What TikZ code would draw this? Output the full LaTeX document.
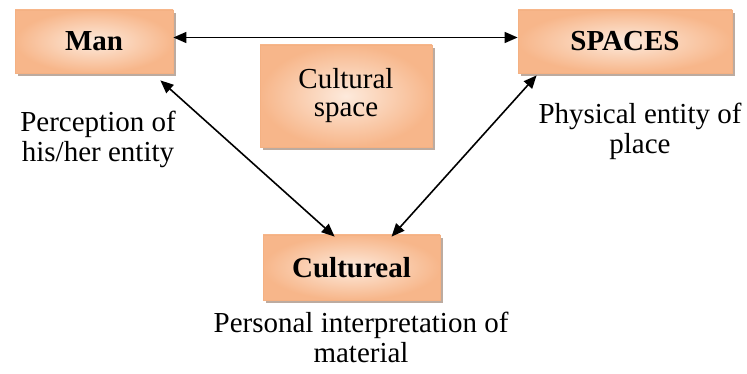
\documentclass[tikz,border=0pt]{standalone}
\usepackage{fontspec}
\setmainfont{Liberation Serif}
\usetikzlibrary{shadows,arrows.meta}
\definecolor{boxorange}{HTML}{F7B68A}
\definecolor{boxlight}{HTML}{FDEADC}
\definecolor{boxline}{HTML}{F4B183}
\definecolor{shadowc}{HTML}{A08878}
\begin{document}
\begin{tikzpicture}[x=1pt,y=-1pt,
 obox/.style={draw=boxline, line width=0.8pt, shading=radial, inner color=boxlight, outer color=boxorange, inner sep=0pt, align=center,
   font=\fontsize{29}{28}\selectfont,
   drop shadow={shadow xshift=3pt, shadow yshift=-3pt, fill=shadowc, opacity=0.7}},
 lbl/.style={align=center, inner sep=0pt, font=\fontsize{29}{28}\selectfont},
 dbl/.style={{Triangle[length=13pt,width=11pt]}-{Triangle[length=13pt,width=11pt]}, line width=1.6pt, black}]
\useasboundingbox (0,0) rectangle (747,374);

\node[obox, minimum width=158pt, minimum height=63pt, font=\fontsize{29}{28}\selectfont\bfseries] (man) at (94,41.5) {Man};
\node[obox, minimum width=214pt, minimum height=63pt, font=\fontsize{29}{28}\selectfont\bfseries] (spaces) at (625,41.5) {SPACES};
\node[obox, minimum width=172pt, minimum height=102pt] (cspace) at (346,96) {Cultural\\space};
\node[obox, minimum width=177pt, minimum height=65pt, font=\fontsize{29}{28}\selectfont\bfseries] (cult) at (351.5,267.5) {Cultureal};

\node[lbl] (perc) at (98,140.4) {Perception of\strut\\his/her entity\strut};
\node[lbl] (phys) at (640,132.4) {Physical entity of\strut\\place\strut};
\node[lbl] (pers) at (361,341.4) {Personal interpretation of\strut\\material\strut};

\draw[dbl] ([yshift=4pt]man.east) -- ([yshift=4pt]spaces.west);
\draw[dbl] ([xshift=-13pt,yshift=-7pt]man.south east) -- ([xshift=72pt,yshift=-2pt]cult.north west);
\draw[dbl] ([xshift=19pt,yshift=-2pt]spaces.south west) -- ([xshift=129pt,yshift=-2pt]cult.north west);
\end{tikzpicture}
\end{document}
